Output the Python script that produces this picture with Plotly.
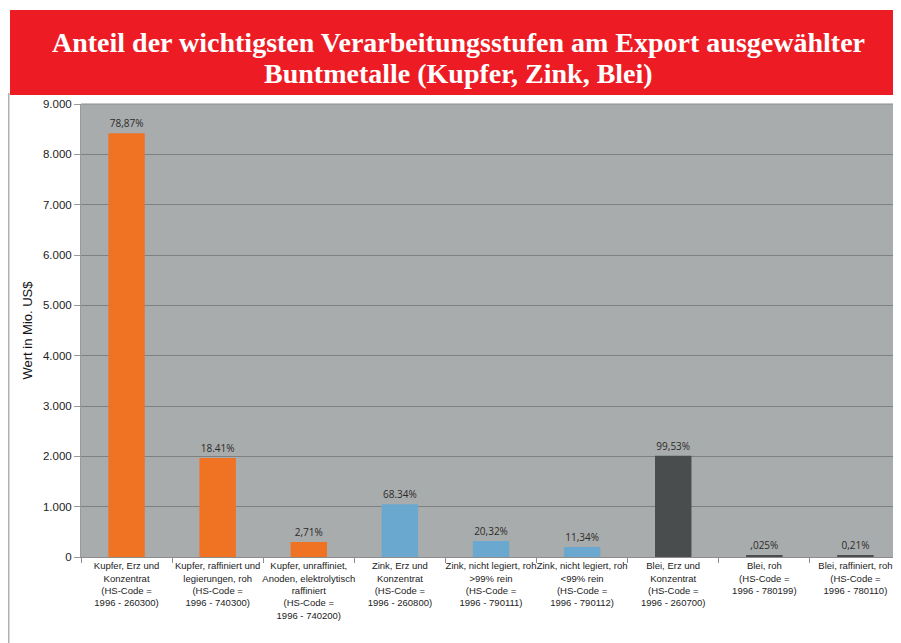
import plotly.graph_objects as go

categories = [
    "Kupfer, Erz und<br>Konzentrat<br>(HS-Code =<br>1996 - 260300)",
    "Kupfer, raffiniert und<br>legierungen, roh<br>(HS-Code =<br>1996 - 740300)",
    "Kupfer, unraffiniet,<br>Anoden, elektrolytisch<br>raffiniert<br>(HS-Code =<br>1996 - 740200)",
    "Zink, Erz und<br>Konzentrat<br>(HS-Code =<br>1996 - 260800)",
    "Zink, nicht legiert, roh<br>&gt;99% rein<br>(HS-Code =<br>1996 - 790111)",
    "Zink, nicht legiert, roh<br>&lt;99% rein<br>(HS-Code =<br>1996 - 790112)",
    "Blei, Erz und<br>Konzentrat<br>(HS-Code =<br>1996 - 260700)",
    "Blei, roh<br>(HS-Code =<br>1996 - 780199)",
    "Blei, raffiniert, roh<br>(HS-Code =<br>1996 - 780110)",
]
values = [8420, 1965, 300, 1050, 318, 198, 2010, 35, 35]
share_labels = ["78,87%", "18.41%", "2,71%", "68.34%", "20,32%", "11,34%", "99,53%", ",025%", "0,21%"]
metal_colors = ["#F07323", "#F07323", "#F07323",
                "#6AA8CF", "#6AA8CF", "#6AA8CF",
                "#4A4D4E", "#4A4D4E", "#4A4D4E"]
y_ticks = [0, 1000, 2000, 3000, 4000, 5000, 6000, 7000, 8000, 9000]
title_lines = ["Anteil der wichtigsten Verarbeitungsstufen am Export ausgewählter",
               "Buntmetalle (Kupfer, Zink, Blei)"]

fig = go.Figure()
fig.add_trace(go.Bar(
    x=categories, y=values,
    marker=dict(color=metal_colors, line=dict(width=0)),
    text=share_labels, textposition="outside", cliponaxis=False,
    textfont=dict(family="Open Sans, Liberation Sans, sans-serif", size=10, color="#2b2b2b"),
    width=0.4,
))

# page has an 8px body margin; figure coordinates = page coordinates - 8
W, H = 893, 635
L, R, T, B = 73, 0, 96, 86
pw, ph = W - L - R, H - T - B

def px(x):
    return (x - L) / pw

def py(y):
    return (H - B - y) / ph

shapes = [
    dict(type="rect", xref="paper", yref="paper", x0=px(2), x1=px(893), y0=py(87), y1=py(2),
         fillcolor="#ED1C24", line=dict(width=0), layer="below"),
    dict(type="line", xref="paper", yref="paper", x0=px(0.75), x1=px(0.75), y0=py(85), y1=py(635),
         line=dict(color="#B0B0B0", width=1.5)),
    dict(type="line", xref="paper", yref="paper", x0=0, x1=1, y0=1, y1=1,
         line=dict(color="#8C8C8C", width=1)),
]

annotations = [
    dict(xref="paper", yref="paper", x=px(450), y=py(yc), xanchor="center", yanchor="middle",
         text="<b>" + line + "</b>", showarrow=False,
         font=dict(family="Liberation Serif, serif", size=28, color="white"))
    for line, yc in zip(title_lines, [35, 65])
]

fig.update_layout(
    width=W, height=H,
    margin=dict(l=L, r=R, t=T, b=B, pad=0),
    paper_bgcolor="white", plot_bgcolor="#A9ACAC",
    separators=",.",
    showlegend=False,
    bargap=0.6,
    shapes=shapes, annotations=annotations,
    font=dict(family="Liberation Sans, Arial, sans-serif", color="#222"),
    xaxis=dict(
        type="category", showgrid=False, tickson="boundaries",
        ticks="outside", ticklen=5, tickcolor="#8C8C8C",
        showline=True, linecolor="#8C8C8C", linewidth=1,
        tickfont=dict(size=9.5, color="#222"), tickangle=0,
    ),
    yaxis=dict(
        range=[0, 9000], tickvals=y_ticks, tickformat=",d",
        showgrid=True, gridcolor="#7F8080", gridwidth=1,
        ticks="outside", ticklen=6, tickcolor="#9A9A9A",
        showline=True, linecolor="#9A9A9A", linewidth=1,
        tickfont=dict(size=11.5, color="#222"),
        title=dict(text="Wert in Mio. US$", font=dict(size=13, color="#111"), standoff=7),
        zeroline=False,
    ),
)

fig.write_html("out.html")
